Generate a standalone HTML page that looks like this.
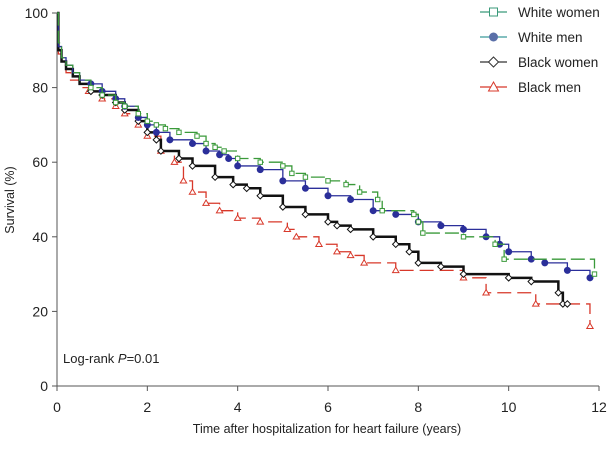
<!DOCTYPE html>
<html><head><meta charset="utf-8"><style>
body{margin:0;background:#fff;width:611px;height:445px;overflow:hidden}
svg{font-family:"Liberation Sans",sans-serif}
</style></head><body>
<svg id="chart" width="611" height="445">
<g id="axes"></g><g id="series"></g>
<text x="63" y="363" font-size="13" fill="#222">Log-rank <tspan font-style="italic">P</tspan>=0.01</text>
<text x="327" y="433" font-size="12.5" fill="#222" text-anchor="middle">Time after hospitalization for heart failure (years)</text>
<text transform="translate(14,200) rotate(-90)" font-size="12.5" fill="#222" text-anchor="middle">Survival (%)</text>
<g id="legend"></g>
</svg>
<script>
const xTicks=[0,2,4,6,8,10,12];
const yTicks=[0,20,40,60,80,100];
const seriesNames=["White women","White men","Black women","Black men"];
const wwT=[0,0.03,0.1,0.2,0.35,0.5,0.75,1,1.3,1.5,1.8,2,2.2,2.4,2.7,3.1,3.3,3.5,3.7,4,4.5,5,5.2,5.5,6,6.4,6.7,7.1,7.2,7.9,8,8.1,9,9.7,9.9,11.9];
const wwS=[100,92,88,86,84,82,80,78,76,75,73,71,70,69,68,67,65,64,63,61,60,59,57,56,55,54,52,50,47,46,44,41,40,38,34,30];
const wmT=[0,0.03,0.1,0.2,0.35,0.5,0.75,1,1.3,1.5,1.8,2,2.2,2.5,3,3.3,3.6,3.8,4,4.5,5,5.5,6,6.5,7,7.5,8,8.5,9,9.5,9.8,10,10.5,10.8,11.3,11.8];
const wmS=[100,91,88,86,84,82,81,79,77,75,72,70,68,66,65,63,62,61,59,58,55,53,51,50,47,46,44,43,42,40,38,36,34,33,31,29];
const bwT=[0,0.03,0.1,0.2,0.35,0.5,0.75,1,1.3,1.5,1.8,2,2.2,2.3,2.7,3,3.5,3.9,4.2,4.5,5,5.5,6,6.2,6.5,7,7.5,7.8,8,8.5,9,10,10.5,11.1,11.2,11.3];
const bwS=[100,90,87,85,83,81,79,78,76,74,71,68,66,63,61,59,56,54,53,51,48,46,44,43,42,40,38,36,33,32,30,29,28,25,22,22];
const bmT=[0,0.03,0.1,0.2,0.3,0.5,0.7,1,1.3,1.5,1.8,2,2.3,2.6,2.8,3,3.3,3.6,4,4.5,5.1,5.3,5.8,6.2,6.5,6.8,7.5,9,9.5,10.6,11.8];
const bmS=[100,89,86,84,82,80,79,77,75,73,70,67,63,60,55,52,49,47,45,44,42,40,38,36,35,33,31,29,25,22,16];
const X=t=>57+t*(599-57)/12, Y=v=>386-v*(386-13)/100;
const NS="http://www.w3.org/2000/svg";
function el(tag,attrs,parent){const e=document.createElementNS(NS,tag);for(const k in attrs)e.setAttribute(k,attrs[k]);parent.appendChild(e);return e;}
const ax=document.getElementById('axes');
const xl=el('line',{x1:X(0),y1:Y(0),x2:X(12),y2:Y(0),stroke:'#555','stroke-width':1},ax);


const yl=el('line',{x1:X(0),y1:Y(0),x2:X(0),y2:Y(100),stroke:'#555','stroke-width':1},ax);


xTicks.forEach(t=>{el('line',{x1:X(t),y1:Y(0),x2:X(t),y2:Y(0)+5,stroke:'#555'},ax);
 const tx=el('text',{x:X(t),y:Y(0)+26,'font-size':14,'text-anchor':'middle',fill:'#222'},ax);tx.textContent=t;
 
 });
yTicks.forEach(v=>{el('line',{x1:X(0)-5,y1:Y(v),x2:X(0),y2:Y(v),stroke:'#555'},ax);
 const tx=el('text',{x:X(0)-9,y:Y(v)+5,'font-size':14,'text-anchor':'end',fill:'#222'},ax);tx.textContent=v;
 
 });
const styles=[{c:'#3a9a3a',dash:'14 5',w:1.3,m:'sq'},{c:'#2b2f9a',dash:'',w:1.3,m:'dot'},{c:'#111',dash:'',w:2.5,m:'dia'},{c:'#d8382a',dash:'14 6',w:1.3,m:'tri'}];
const data=[[wwT,wwS],[wmT,wmS],[bwT,bwS],[bmT,bmS]];
function marker(g,m,x,y,c,s){
 if(m==='sq')el('rect',{x:x-s,y:y-s,width:2*s,height:2*s,fill:'#fff',stroke:c,'stroke-width':1},g);
 else if(m==='dot')el('circle',{cx:x,cy:y,r:s+0.8,fill:'#2b2f9a',stroke:'#2b2f9a'},g);
 else if(m==='dia')el('path',{d:`M${x} ${y-s-1}L${x+s+1} ${y}L${x} ${y+s+1}L${x-s-1} ${y}Z`,fill:'#fff',stroke:c,'stroke-width':1},g);
 else el('path',{d:`M${x} ${y-s-1}L${x+s+1} ${y+s}L${x-s-1} ${y+s}Z`,fill:'#fff',stroke:c,'stroke-width':1},g);
}
const sg=document.getElementById('series');
[3,2,1,0].forEach(i=>{const [T,S]=data[i],st=styles[i];
 const g=el('g',{},sg);
 
 
 let d=`M${X(T[0])} ${Y(S[0])}`;
 for(let k=1;k<T.length;k++){d+=`H${X(T[k])}V${Y(S[k])}`;}
 el('path',{d:d,fill:'none',stroke:st.c,'stroke-width':st.w,'stroke-dasharray':st.dash},g);
 for(let k=6;k<T.length;k++)marker(g,st.m,X(T[k]),Y(S[k]),st.c,2.2);
});
const lg=document.getElementById('legend');
const lc=['#3a9a7a','#3a9a9a','#333','#d8382a'];
seriesNames.forEach((n,i)=>{const y=12+i*25;const g=el('g',{},lg);
 
 
 el('line',{x1:480,y1:y,x2:507,y2:y,stroke:lc[i],'stroke-width':1.2},g);
 if(i===1)el('circle',{cx:493.5,cy:y,r:4.5,fill:'#5a6fa8'},g);
 else marker(g,['sq','dot','dia','tri'][i],493.5,y,lc[i],4);
 const t=el('text',{x:518,y:y+5,'font-size':13.5,fill:'#222'},g);t.textContent=n;});
</script>
</body></html>
